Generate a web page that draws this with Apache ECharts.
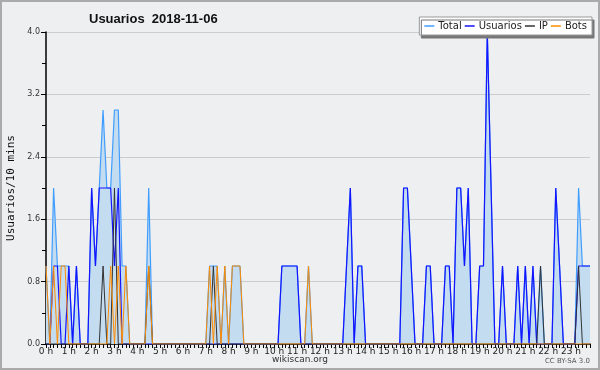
<!DOCTYPE html>
<html>
<head>
<meta charset="utf-8">
<script src="https://cdn.jsdelivr.net/npm/echarts@6/dist/echarts.min.js"></script>
<style>
  html, body { margin: 0; padding: 0; background: #eeeff1; }
  #main { width: 600px; height: 370px; }
</style>
</head>
<body>
<div id="main"></div>
<script>
// 10-minute slots over the day, 144 points
var slots = [];
for (var h = 0; h < 24; h++) {
  for (var m = 0; m < 60; m += 10) {
    slots.push(h + ':' + (m < 10 ? '0' + m : m));
  }
}

var totalData = [
  1,0,2,1,1,1,1,0,1,0,0,0,
  2,1,2,3,2,2,3,3,1,1,0,0,
  0,0,0,2,0,0,0,0,0,0,0,0,
  0,0,0,0,0,0,0,1,1,1,0,1,
  0,1,1,1,0,0,0,0,0,0,0,0,
  0,0,1,1,1,1,1,0,0,1,0,0,
  0,0,0,0,0,0,0,1,2,0,1,1,
  0,0,0,0,0,0,0,0,0,0,2,2,
  1,0,0,0,1,1,0,0,0,1,1,0,
  2,2,1,2,0,0,1,1,4,2,0,0,
  1,0,0,0,1,0,1,0,1,0,1,0,
  0,0,2,1,0,0,0,0,2,1,1,1
];

var usuariosData = [
  0,0,1,1,0,0,1,0,1,0,0,0,
  2,1,2,2,2,2,1,2,0,0,0,0,
  0,0,0,0,0,0,0,0,0,0,0,0,
  0,0,0,0,0,0,0,0,0,0,0,0,
  0,0,0,0,0,0,0,0,0,0,0,0,
  0,0,1,1,1,1,1,0,0,0,0,0,
  0,0,0,0,0,0,0,1,2,0,1,1,
  0,0,0,0,0,0,0,0,0,0,2,2,
  1,0,0,0,1,1,0,0,0,1,1,0,
  2,2,1,2,0,0,1,1,4,2,0,0,
  1,0,0,0,1,0,1,0,1,0,0,0,
  0,0,2,1,0,0,0,0,1,1,1,1
];

var ipData = [
  0,0,0,0,0,0,0,0,0,0,0,0,
  0,0,0,1,0,0,2,0,0,0,0,0,
  0,0,0,1,0,0,0,0,0,0,0,0,
  0,0,0,0,0,0,0,0,1,0,0,0,
  0,0,0,0,0,0,0,0,0,0,0,0,
  0,0,0,0,0,0,0,0,0,0,0,0,
  0,0,0,0,0,0,0,0,0,0,0,0,
  0,0,0,0,0,0,0,0,0,0,0,0,
  0,0,0,0,0,0,0,0,0,0,0,0,
  0,0,0,0,0,0,0,0,0,0,0,0,
  0,0,0,0,0,0,0,0,0,0,1,0,
  0,0,0,0,0,0,0,0,1,0,0,0
];

var botsData = [
  1,0,1,0,1,1,0,0,0,0,0,0,
  0,0,0,0,0,1,0,1,0,1,0,0,
  0,0,0,1,0,0,0,0,0,0,0,0,
  0,0,0,0,0,0,0,1,0,1,0,1,
  0,1,1,1,0,0,0,0,0,0,0,0,
  0,0,0,0,0,0,0,0,0,1,0,0,
  0,0,0,0,0,0,0,0,0,0,0,0,
  0,0,0,0,0,0,0,0,0,0,0,0,
  0,0,0,0,0,0,0,0,0,0,0,0,
  0,0,0,0,0,0,0,0,0,0,0,0,
  0,0,0,0,0,0,0,0,0,0,0,0,
  0,0,0,0,0,0,0,0,0,0,0,0
];

var chart = echarts.init(document.getElementById('main'));

var option = {
  backgroundColor: '#eeeff1',
  animation: false,
  title: {
    text: 'Usuarios  2018-11-06',
    left: 84,
    top: 8,
    textStyle: { fontFamily: 'Liberation Sans', fontSize: 13, fontWeight: 'bold', color: '#111' }
  },
  legend: {
    right: 8,
    top: 17,
    icon: 'rect',
    itemWidth: 10,
    itemHeight: 1.5,
    itemGap: 3,
    padding: [4, 5, 4, 5],
    backgroundColor: '#ffffff',
    borderColor: '#999',
    borderWidth: 1,
    shadowColor: '#777',
    shadowOffsetX: 2,
    shadowOffsetY: 3,
    shadowBlur: 0,
    textStyle: { fontFamily: 'DejaVu Sans', fontSize: 10, color: '#222', padding: [0, 0, 0, -1] },
    data: ['Total', 'Usuarios', 'IP', 'Bots']
  },
  grid: { left: 46, right: 10, top: 32, bottom: 26, outerBoundsMode: 'none' },
  xAxis: {
    type: 'category',
    data: slots,
    boundaryGap: false,
    axisLine: { lineStyle: { color: '#000', width: 1.5 } },
    axisTick: { interval: 0, length: 4, lineStyle: { color: '#000' } },
    axisLabel: {
      interval: 5,
      margin: 3,
      fontFamily: 'DejaVu Sans',
      fontSize: 9,
      color: '#222',
      formatter: function (v) { return parseInt(v, 10) + ' h'; }
    },
    splitLine: { show: false }
  },
  yAxis: {
    type: 'value',
    min: 0,
    max: 4,
    interval: 0.8,
    name: 'Usuarios/10 mins',
    nameLocation: 'middle',
    nameGap: 28,
    nameTextStyle: { fontFamily: 'DejaVu Sans Mono', fontSize: 11, color: '#111' },
    axisLine: { show: true, lineStyle: { color: '#000', width: 1.5 } },
    axisTick: { show: true, length: 5, lineStyle: { color: '#000' } },
    minorTick: { show: true, splitNumber: 2, length: 4, lineStyle: { color: '#000' } },
    axisLabel: {
      margin: 6,
      fontFamily: 'DejaVu Sans',
      fontSize: 8,
      color: '#333',
      formatter: function (v) { return v.toFixed(1); }
    },
    splitLine: { lineStyle: { color: '#cccccc', width: 1 } }
  },
  series: [
    {
      name: 'Total',
      type: 'line',
      data: totalData,
      symbol: 'none',
      lineStyle: { color: '#3f9dff', width: 1.2 },
      itemStyle: { color: '#3f9dff' },
      areaStyle: { color: '#c4dcf0', opacity: 1 }
    },
    {
      name: 'Usuarios',
      type: 'line',
      data: usuariosData,
      symbol: 'none',
      lineStyle: { color: '#1414ff', width: 1.2 },
      itemStyle: { color: '#1414ff' }
    },
    {
      name: 'IP',
      type: 'line',
      data: ipData,
      symbol: 'none',
      lineStyle: { color: '#333333', width: 1 },
      itemStyle: { color: '#333333' }
    },
    {
      name: 'Bots',
      type: 'line',
      data: botsData,
      symbol: 'none',
      lineStyle: { color: '#ff8c00', width: 1 },
      itemStyle: { color: '#ff8c00' }
    }
  ],
  graphic: [
    {
      type: 'rect',
      silent: true,
      shape: { x: 1, y: 1, width: 598, height: 368 },
      style: { fill: 'none', stroke: '#aaaaaa', lineWidth: 2 }
    },
    {
      type: 'text',
      left: 'center',
      top: 355,
      style: { text: 'wikiscan.org', fontFamily: 'DejaVu Sans', fontSize: 9, fill: '#333' }
    },
    {
      type: 'text',
      right: 10,
      top: 358,
      style: { text: 'CC BY-SA 3.0', fontFamily: 'DejaVu Sans', fontSize: 7, fill: '#555' }
    }
  ]
};

chart.setOption(option);
</script>
</body>
</html>
